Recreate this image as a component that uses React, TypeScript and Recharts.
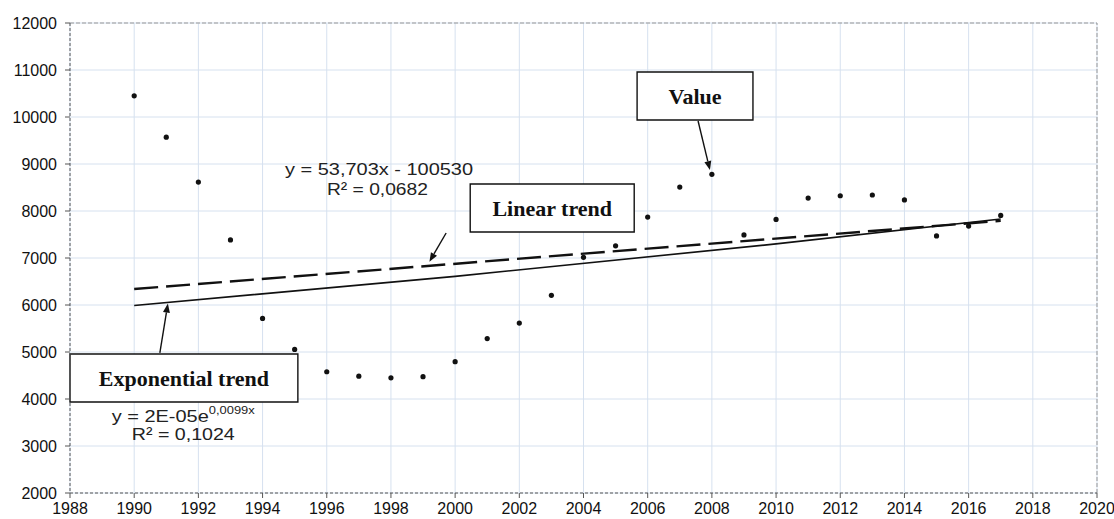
import React from 'react';
import {
  ComposedChart, Scatter, Line, XAxis, YAxis, CartesianGrid,
  ReferenceLine, ReferenceArea, ReferenceDot,
} from 'recharts';

const years = [1990, 1991, 1992, 1993, 1994, 1995, 1996, 1997, 1998, 1999, 2000, 2001, 2002, 2003, 2004, 2005, 2006, 2007, 2008, 2009, 2010, 2011, 2012, 2013, 2014, 2015, 2016, 2017];
const values = [10450, 9570, 8615, 7385, 5715, 5055, 4580, 4485, 4450, 4475, 4795, 5285, 5615, 6205, 7015, 7260, 7870, 8510, 8780, 7490, 7820, 8275, 8325, 8340, 8235, 7470, 7680, 7905];

const linearYears = [1990, 2017];
const linearTrend = [6340, 7790];
const expYears = [1990, 2000, 2010, 2017];
const expTrend = [5990, 6610, 7300, 7830];

const xTicks = [1988, 1990, 1992, 1994, 1996, 1998, 2000, 2002, 2004, 2006, 2008, 2010, 2012, 2014, 2016, 2018, 2020];
const yTicks = [2000, 3000, 4000, 5000, 6000, 7000, 8000, 9000, 10000, 11000, 12000];

const pointData = years.map((x, i) => ({ x, y: values[i] }));
const linearData = linearYears.map((x, i) => ({ x, y: linearTrend[i] }));
const expData = expYears.map((x, i) => ({ x, y: expTrend[i] }));

const SANS = '"Liberation Sans", Arial, sans-serif';
const SERIF = '"Liberation Serif", "Times New Roman", serif';

const Arrow = (props: any) => {
  const { x1, y1, x2, y2 } = props;
  const dx = x2 - x1;
  const dy = y2 - y1;
  const len = Math.sqrt(dx * dx + dy * dy) || 1;
  const ux = dx / len;
  const uy = dy / len;
  const hl = 9;
  const hw = 3.5;
  const bx = x2 - ux * hl;
  const by = y2 - uy * hl;
  const pts = `${x2},${y2} ${bx - uy * hw},${by + ux * hw} ${bx + uy * hw},${by - ux * hw}`;
  return (
    <g>
      <line x1={x1} y1={y1} x2={bx} y2={by} stroke="#111" strokeWidth={1.4} />
      <polygon points={pts} fill="#111" />
    </g>
  );
};

const boxLabel = (text: string) => (props: any) => {
  const vb = props.viewBox || {};
  return (
    <text
      x={vb.x + vb.width / 2}
      y={vb.y + vb.height / 2}
      textAnchor="middle"
      dominantBaseline="central"
      fontFamily={SERIF}
      fontWeight="bold"
      fontSize={22}
      fill="#111"
    >
      {text}
    </text>
  );
};

const textShape = (content: React.ReactNode, anchor: string, len: number) => (props: any) => (
  <text
    x={props.cx}
    y={props.cy}
    textAnchor={anchor}
    fontFamily={SANS}
    fontSize={17}
    fill="#222"
    textLength={len}
    lengthAdjust="spacingAndGlyphs"
  >
    {content}
  </text>
);

export default function App() {
  return (
    <div style={{ position: 'absolute', left: 0, top: 0, width: 1114, height: 519, background: '#fff' }}>
      <ComposedChart width={1114} height={519} margin={{ top: 23, right: 17, bottom: 0, left: 10 }}>
        <CartesianGrid stroke="#d6e1ef" strokeWidth={1} />
        <XAxis
          type="number"
          dataKey="x"
          domain={[1988, 2020]}
          ticks={xTicks}
          allowDataOverflow
          height={26}
          axisLine={{ stroke: '#555', strokeDasharray: '3 2' }}
          tickLine={{ stroke: '#555' }}
          tickSize={5}
          tickMargin={5}
          tick={{ fontSize: 16, fill: '#111', fontFamily: SANS }}
          interval={0}
        />
        <YAxis
          type="number"
          dataKey="y"
          domain={[2000, 12000]}
          ticks={yTicks}
          allowDataOverflow
          width={60}
          axisLine={{ stroke: '#555', strokeDasharray: '3 2' }}
          tickLine={{ stroke: '#555' }}
          tickSize={5}
          tickMargin={8}
          tick={{ fontSize: 16, fill: '#111', fontFamily: SANS }}
          interval={0}
        />
        <ReferenceLine y={12000} stroke="#999" strokeDasharray="4 2" />
        <ReferenceLine x={2020} stroke="#999" strokeDasharray="4 2" />
        <Line data={linearData} dataKey="y" type="linear" stroke="#111" strokeWidth={2.4} strokeDasharray="24 8" dot={false} activeDot={false} isAnimationActive={false} />
        <Line data={expData} dataKey="y" type="monotone" stroke="#111" strokeWidth={1.6} dot={false} activeDot={false} isAnimationActive={false} />
        <Scatter data={pointData} dataKey="y" fill="#111" shape={(p: any) => <circle cx={p.cx} cy={p.cy} r={2.6} fill="#111" />} isAnimationActive={false} />

        <ReferenceDot x={1997.63} y={8766} r={1} ifOverflow="visible" shape={textShape('y = 53,703x - 100530', 'middle', 188)} />
        <ReferenceDot x={1997.58} y={8340} r={1} ifOverflow="visible" shape={textShape('R² = 0,0682', 'middle', 101)} />
        <ReferenceDot x={1989.3} y={3517} r={1} ifOverflow="visible" shape={textShape(<>y = 2E-05e<tspan fontSize={11} dy={-8}>0,0099x</tspan></>, 'start', 143)} />
        <ReferenceDot x={1991.53} y={3128} r={1} ifOverflow="visible" shape={textShape('R² = 0,1024', 'middle', 103)} />

        <ReferenceArea x1={2005.67} x2={2009.28} y1={9936} y2={10957} fill="#fff" fillOpacity={1} stroke="#111" strokeWidth={1.4} ifOverflow="visible" label={boxLabel('Value')} />
        <ReferenceArea x1={2000.47} x2={2005.58} y1={7553} y2={8574} fill="#fff" fillOpacity={1} stroke="#111" strokeWidth={1.4} ifOverflow="visible" label={boxLabel('Linear trend')} />
        <ReferenceArea x1={1988} x2={1995.1} y1={3936} y2={4957} fill="#fff" fillOpacity={1} stroke="#111" strokeWidth={1.4} ifOverflow="visible" label={boxLabel('Exponential trend')} />

        <ReferenceLine segment={[{ x: 2007.57, y: 9915 }, { x: 2007.94, y: 8870 }]} ifOverflow="visible" shape={Arrow} />
        <ReferenceLine segment={[{ x: 1999.72, y: 7532 }, { x: 1999.2, y: 6920 }]} ifOverflow="visible" shape={Arrow} />
        <ReferenceLine segment={[{ x: 1990.8, y: 4979 }, { x: 1991.05, y: 6030 }]} ifOverflow="visible" shape={Arrow} />
      </ComposedChart>
    </div>
  );
}
